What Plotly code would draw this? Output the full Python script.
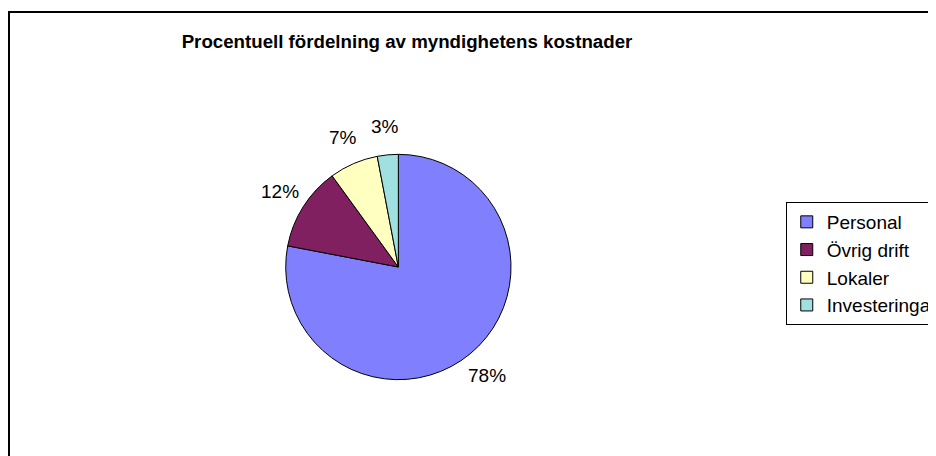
import math
import plotly.graph_objects as go

categories = ["Personal", "Övrig drift", "Lokaler", "Investeringar"]
values = [78, 12, 7, 3]
colors = ["#8080FF", "#802060", "#FFFFC0", "#A0E0E0"]
title_text = "Procentuell fördelning av myndighetens kostnader"

# figure is offset by the 8px page margin
W, H = 936, 456
cx, cy, r = 395, 259, 114
FONT = "Liberation Sans, Arial, sans-serif"

fig = go.Figure(
    go.Pie(
        labels=categories,
        values=values,
        sort=False,
        direction="clockwise",
        rotation=0,
        marker=dict(colors=colors, line=dict(color="black", width=1)),
        textinfo="none",
        domain=dict(x=[(cx - r) / W, (cx + r) / W], y=[1 - (cy + r) / H, 1 - (cy - r) / H]),
        hoverinfo="label+percent",
    )
)

# percentage labels placed outside each slice, computed from the data
total = sum(values)
annotations = []
cum = 0
for v in values:
    frac_mid = (cum + v / 2) / total
    ang = 2 * math.pi * frac_mid
    d = r * 1.24
    px = cx + d * math.sin(ang)
    py = cy - d * math.cos(ang)
    annotations.append(
        dict(
            x=px / W,
            y=1 - py / H,
            xref="paper",
            yref="paper",
            text=f"{round(100 * v / total)}%",
            showarrow=False,
            xanchor="center",
            yanchor="middle",
            font=dict(family=FONT, size=19, color="black"),
        )
    )
    cum += v

fig.update_layout(
    width=W,
    height=H,
    margin=dict(l=0, r=0, t=0, b=0),
    paper_bgcolor="white",
    plot_bgcolor="white",
    font=dict(family=FONT, size=19, color="black"),
    title=dict(
        text="<b>" + title_text + "</b>",
        x=399 / W,
        xanchor="center",
        y=1 - 33 / H,
        yanchor="middle",
        font=dict(family=FONT, size=18.7, color="black"),
    ),
    showlegend=True,
    legend=dict(
        x=787 / W,
        xanchor="left",
        y=1 - 194 / H,
        yanchor="top",
        bordercolor="black",
        borderwidth=1,
        bgcolor="white",
        font=dict(family=FONT, size=19, color="black"),
    ),
    annotations=annotations,
    shapes=[
        dict(
            type="rect",
            xref="paper",
            yref="paper",
            x0=1 / W,
            x1=1.02,
            y0=-0.02,
            y1=1 - 4 / H,
            line=dict(color="black", width=2),
            fillcolor="rgba(0,0,0,0)",
            layer="below",
        )
    ],
)

fig.write_html("out.html")
